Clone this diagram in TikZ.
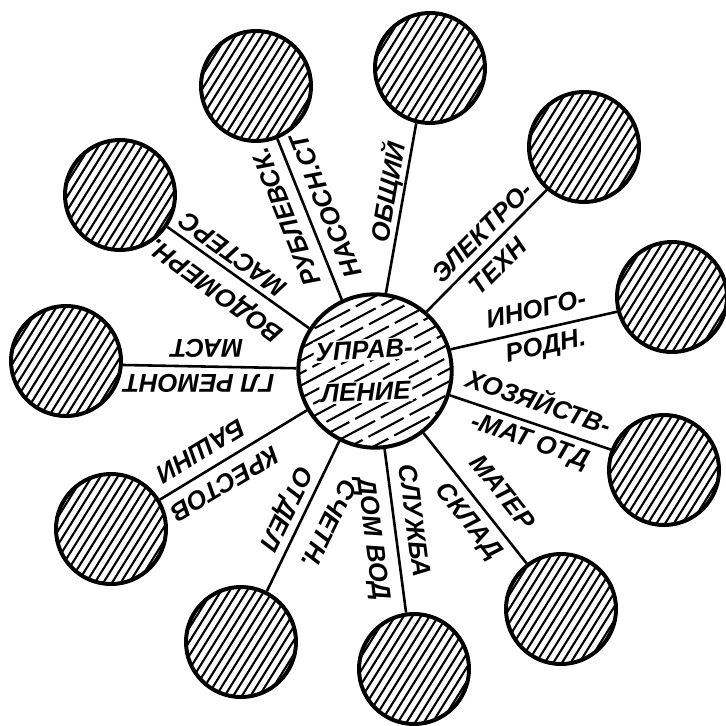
\documentclass[tikz,border=0pt]{standalone}
\usepackage{fontspec}
\setmainfont{Liberation Sans}
\usetikzlibrary{calc}
\begin{document}
\begin{tikzpicture}[x=0.03cm,y=-0.03cm,
  hub/.style={circle, draw, line width=3.4pt, minimum size=4.6cm, inner sep=0pt,
    path picture={
      \foreach \k [evaluate=\k as \ph using {0.1*mod(\k*7+70,13)}] in {-7,...,7}{
        \draw[line width=1.8pt, dash pattern=on 1.2cm off 0.2cm, dash phase=\ph cm]
          ($(path picture bounding box.center)+(118:\k*0.33cm)+(28:-3cm)$) -- ++(28:6cm);}}},
  leaf/.style={circle, draw, line width=3.4pt, minimum size=3.3cm, inner sep=0pt,
    path picture={
      \foreach \k in {-8,...,8}{
        \draw[line width=1.8pt]
          ($(path picture bounding box.center)+(148:\k*0.22cm)+(58:-2cm)$) -- ++(58:4cm);}}},
  link/.style={line width=2.2pt},
  lab/.style={inner sep=0pt, font=\fontsize{22}{24}\selectfont\bfseries\itshape},
  hubtext/.style={inner sep=1.5pt, fill=white, font=\fontsize{22}{24}\selectfont\bfseries\itshape}
]
\useasboundingbox[fill=white] (0,0) rectangle (726,726);

\node[hub] (hub) at (375,371) {};
\node[leaf] (o1) at (256,86) {};
\node[leaf] (o2) at (430,68) {};
\node[leaf] (o3) at (584,147) {};
\node[leaf] (o4) at (672,297) {};
\node[leaf] (o5) at (664,470) {};
\node[leaf] (o6) at (561,609) {};
\node[leaf] (o7) at (414,669) {};
\node[leaf] (o8) at (241,642) {};
\node[leaf] (o9) at (111,529) {};
\node[leaf] (o10) at (66,361) {};
\node[leaf] (o11) at (120,195) {};

\draw[link] (hub.115) -- (o1.-68);
\draw[link] (hub.82) -- (o2.256);
\draw[link] (hub.49) -- (o3.229);
\draw[link] (hub.16) -- (o4.195);
\draw[link] (hub.-18) -- (o5.159);
\draw[link] (hub.-52) -- (o6.127);
\draw[link] (hub.-83) -- (o7.98);
\draw[link] (hub.243) -- (o8.63);
\draw[link] (hub.210) -- (o9.31);
\draw[link] (hub.178) -- (o10.-4);
\draw[link] (hub.147) -- (o11.-34);

\node[hubtext, rotate=3] (h1) at (364,350) {УПРАВ-};
\node[hubtext, rotate=2] (h2) at (366,392) {ЛЕНИЕ};

\node[lab, rotate=112] (t1a) at (286,217) {РУБЛЕВСК.};
\node[lab, rotate=112] (t1b) at (326,206) {НАСОСН.СТ};
\node[lab, rotate=80] (t2) at (388,192) {ОБЩИЙ};
\node[lab, rotate=45] (t3a) at (482,232) {ЭЛЕКТРО-};
\node[lab, rotate=45] (t3b) at (498,266) {ТЕХН};
\node[lab, rotate=12.5] (t4a) at (536,309) {ИНОГО-};
\node[lab, rotate=12.5] (t4b) at (546,347) {РОДН.};
\node[lab, rotate=-19] (t5a) at (540,400) {ХОЗЯЙСТВ-};
\node[lab, rotate=-19] (t5b) at (530,442) {-МАТ ОТД};
\node[lab, rotate=-51.7] (t6a) at (503,492) {МАТЕР};
\node[lab, rotate=-51.7] (t6b) at (468,522) {СКЛАД};
\node[lab, rotate=-82.7] (t7a) at (415,521) {СЛУЖБА};
\node[lab, rotate=-82.7] (t7b) at (372,539) {ДОМ ВОД};
\node[lab, rotate=-116.1] (t8a) at (285,508) {ОТДЕЛ};
\node[lab, rotate=-116.1] (t8b) at (329,524) {СЧЕТН.};
\node[lab, rotate=211] (t9a) at (225,484) {КРЕСТОВ};
\node[lab, rotate=211] (t9b) at (201,451) {БАШНИ};
\node[lab, rotate=180] (t10a) at (207,348) {МАСТ};
\node[lab, rotate=180] (t10b) at (199,383) {ГЛ РЕМОНТ};
\node[lab, rotate=144] (t11a) at (233,255) {МАСТЕРС};
\node[lab, rotate=144] (t11b) at (217,289) {ВОДОМЕРН.};
\end{tikzpicture}
\end{document}
